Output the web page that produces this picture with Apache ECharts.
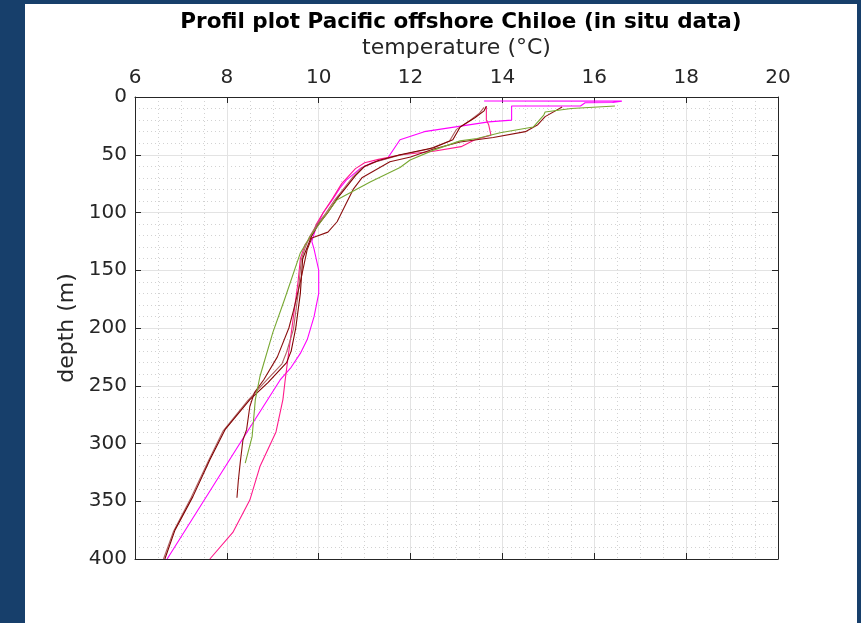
<!DOCTYPE html>
<html>
<head>
<meta charset="utf-8">
<script src="https://cdn.jsdelivr.net/npm/echarts@6/dist/echarts.min.js"></script>
<style>
html,body{margin:0;padding:0;background:#173f6b;}
#c{width:861px;height:623px;}
</style>
</head>
<body>
<div id="c"></div>
<script>
// ---- data (temperature °C, depth m) ----
const xTicks = [6, 8, 10, 12, 14, 16, 18, 20];
const yTicks = [0, 50, 100, 150, 200, 250, 300, 350, 400];

const magentaTemp  = [13.6,16.6,16.4,15.8,15.7,14.2,14.2,13.7,12.3,11.77,11.5,11.16,10.9,10.6,10.46,10.3,10.1,9.95,9.85,9.9,10.0,10.0,9.9,9.75,9.6,9.4,9.16,8.33,6.7];
const magentaDepth = [3.5,3.6,4.8,5.0,7.8,7.8,20,21.5,30,37,53,57,62,72,79,89,100,112,125,132,150,170,190,210,222,234,245,297,400];

const pinkTemp  = [13.65,13.65,13.7,13.75,13.4,13.1,12.5,11.8,11.3,11.0,10.8,10.5,10.3,10.1,9.95,9.85,9.7,9.6,9.55,9.45,9.35,9.27,9.22,9.07,8.72,8.5,8.13,7.63];
const pinkDepth = [8,20,24,33,37,43,47,50,54,57,62,75,88,100,110,120,128,140,160,190,220,245,262,290,320,349,377,400];

const darkRedTemp  = [13.65,13.6,13.4,13.08,12.92,12.5,11.77,11.3,11.0,10.8,10.6,10.4,10.2,10.0,9.85,9.75,9.65,9.6,9.5,9.4,9.3,8.9,8.5,7.96,7.63,7.26,6.87,6.65];
const darkRedDepth = [8,12,18,26,37,44,50,55,60,68,78,88,100,110,120,130,140,170,200,220,230,247,262,288,314,346,375,400];

const brownTemp  = [13.6,13.5,13.3,13.0,12.85,12.4,11.7,11.25,10.95,10.75,10.55,10.35,10.15,9.95,9.8,9.7,9.62,9.55,9.45,9.3,9.2,8.8,8.45,7.92,7.6,7.22,6.84,6.62];
const brownDepth = [9,14,20,28,38,45,51,56,61,69,79,89,101,111,121,131,141,171,201,221,231,248,263,289,315,347,376,400];

const shortTemp  = [15.3,14.93,14.77,14.5,13.8,13.08,12.5,12.0,11.55,11.16,10.94,10.75,10.6,10.4,10.2,9.85,9.75,9.6,9.45,9.35,9.1,8.8,8.6,8.5,8.43,8.35,8.29,8.25,8.22];
const shortDepth = [8.7,17,24,30,35,39,45,52,56,65,70,80,92,108,117,122,132,160,185,200,225,245,256,268,288,297,317,332,347];

const greenTemp  = [16.45,15.5,14.93,14.9,14.67,13.95,13.45,13.08,12.5,11.99,11.77,11.12,10.4,10.1,9.81,9.6,9.25,9.0,8.72,8.62,8.55,8.4];
const greenDepth = [7.8,10,13,15.6,26,31,36,38,46,54.5,61,73.5,89,105,121,135,176,204,242,262,294,317];

function pairs(t, d){ return t.map((v,i)=>[v, d[i]]); }

const profiles = [
  {name:'p1', t:magentaTemp, d:magentaDepth, color:'#ff00ff'},
  {name:'p2', t:pinkTemp,    d:pinkDepth,    color:'#ff1a8c'},
  {name:'p3', t:brownTemp,   d:brownDepth,   color:'#b06464'},
  {name:'p4', t:darkRedTemp, d:darkRedDepth, color:'#800000'},
  {name:'p5', t:shortTemp,   d:shortDepth,   color:'#8b1010'},
  {name:'p6', t:greenTemp,   d:greenDepth,   color:'#78a832'}
];

const chart = echarts.init(document.getElementById('c'), null, {renderer:'canvas'});
const axisCol = '#262626';
const txtCol = '#262626';
const font = 'DejaVu Sans';

const option = {
  backgroundColor: '#173f6b',
  animation: false,
  graphic: [{type:'rect', shape:{x:25, y:4, width:832, height:619}, style:{fill:'#ffffff'}, z:-10, silent:true}],
  title: {
    text: 'Profil plot Pacific offshore Chiloe (in situ data)',
    left: 456, top: 6, textAlign: 'center',
    textStyle: {fontFamily: font, fontWeight: 'bold', fontSize: 21.5, color: '#000'}
  },
  grid: {left: 135, top: 97, width: 643, height: 462, containLabel: false, show: true, backgroundColor:'#ffffff', borderWidth:0},
  xAxis: [{
    type: 'value', position: 'top', min: 6, max: 20, interval: 2,
    name: 'temperature (°C)', nameLocation: 'middle', nameGap: 38,
    nameTextStyle: {fontFamily: font, fontSize: 22, color: txtCol},
    axisLine: {show: true, onZero: false, lineStyle: {color: axisCol, width: 1}},
    axisTick: {show: true, inside: true, length: 6, lineStyle: {color: axisCol}},
    axisLabel: {fontFamily: font, fontSize: 20, color: txtCol, margin: 9, formatter: v => xTicks.includes(v) ? String(v) : ''},
    splitLine: {show: true, lineStyle: {color: '#e3e3e3', width: 1}},
    minorTick: {show: true, splitNumber: 4, length: 0},
    minorSplitLine: {show: true, lineStyle: {color: '#d2d2d2', type: [1, 3], width: 1}}
  },{
    type: 'value', position: 'bottom', min: 6, max: 20, interval: 2,
    axisLine: {show: true, onZero: false, lineStyle: {color: axisCol, width: 1}},
    axisTick: {show: true, inside: true, length: 6, lineStyle: {color: axisCol}},
    axisLabel: {show: false}, splitLine: {show: false}
  }],
  yAxis: [{
    type: 'value', inverse: true, min: 0, max: 400, interval: 50, position: 'left',
    name: 'depth (m)', nameLocation: 'middle', nameGap: 56, nameRotate: 90,
    nameTextStyle: {fontFamily: font, fontSize: 22, color: txtCol},
    axisLine: {show: true, onZero: false, lineStyle: {color: axisCol, width: 1}},
    axisTick: {show: true, inside: true, length: 6, lineStyle: {color: axisCol}},
    axisLabel: {fontFamily: font, fontSize: 20, color: txtCol, margin: 8, formatter: v => yTicks.includes(v) ? String(v) : ''},
    splitLine: {show: true, lineStyle: {color: '#e3e3e3', width: 1}},
    minorTick: {show: true, splitNumber: 5, length: 0},
    minorSplitLine: {show: true, lineStyle: {color: '#d2d2d2', type: [1, 3], width: 1}}
  },{
    type: 'value', inverse: true, min: 0, max: 400, interval: 50, position: 'right',
    axisLine: {show: true, onZero: false, lineStyle: {color: axisCol, width: 1}},
    axisTick: {show: true, inside: true, length: 6, lineStyle: {color: axisCol}},
    axisLabel: {show: false}, splitLine: {show: false}
  }],
  series: profiles.map(p => ({
    name: p.name, type: 'line', xAxisIndex: 0, yAxisIndex: 0,
    data: pairs(p.t, p.d), showSymbol: false, symbol: 'none',
    lineStyle: {color: p.color, width: 1.1}, itemStyle: {color: p.color},
    smooth: false, clip: true
  }))
};
chart.setOption(option);
</script>
</body>
</html>
